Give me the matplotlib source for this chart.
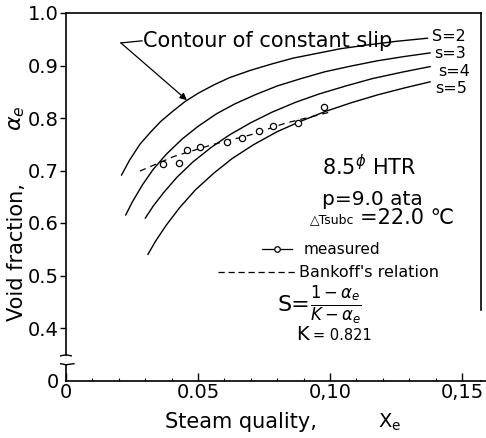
import matplotlib
matplotlib.use('Agg')
import matplotlib.pyplot as plt
from matplotlib.lines import Line2D
from matplotlib.ticker import MultipleLocator

plt.rcParams['font.family'] = ['DejaVu Sans']
plt.rcParams['mathtext.fontset'] = 'dejavusans'

# ── constant-slip contours ──
s2_x = [0.021, 0.024, 0.028, 0.032, 0.036, 0.040, 0.045, 0.050, 0.056, 0.062,
        0.070, 0.078, 0.086, 0.095, 0.104, 0.114, 0.125, 0.137]
s2_y = [0.691, 0.719, 0.750, 0.773, 0.794, 0.811, 0.831, 0.847, 0.863, 0.877,
        0.891, 0.903, 0.914, 0.923, 0.932, 0.939, 0.946, 0.952]
s3_x = [0.0226, 0.025, 0.029, 0.033, 0.038, 0.044, 0.050, 0.057, 0.064, 0.072,
        0.080, 0.089, 0.098, 0.108, 0.118, 0.128, 0.138]
s3_y = [0.615, 0.639, 0.673, 0.702, 0.731, 0.760, 0.784, 0.808, 0.827, 0.845,
        0.861, 0.875, 0.888, 0.899, 0.909, 0.917, 0.924]
s4_x = [0.030, 0.033, 0.037, 0.042, 0.048, 0.055, 0.062, 0.070, 0.078, 0.087,
        0.096, 0.106, 0.116, 0.127, 0.138]
s4_y = [0.609, 0.632, 0.658, 0.687, 0.716, 0.744, 0.768, 0.791, 0.811, 0.830,
        0.846, 0.861, 0.875, 0.887, 0.898]
s5_x = [0.031, 0.034, 0.038, 0.043, 0.049, 0.056, 0.063, 0.071, 0.080, 0.089,
        0.098, 0.108, 0.118, 0.128, 0.138]
s5_y = [0.540, 0.566, 0.596, 0.629, 0.663, 0.695, 0.723, 0.749, 0.774, 0.794,
        0.812, 0.829, 0.844, 0.857, 0.869]
slip_labels = ['S=2', 's=3', 's=4', 's=5']

# ── measured points ──
meas_x = [0.0366, 0.0429, 0.0457, 0.0508, 0.0611, 0.0668, 0.0731, 0.0785, 0.0880, 0.0978]
meas_y = [0.712, 0.715, 0.740, 0.745, 0.755, 0.762, 0.776, 0.785, 0.790, 0.821]

# ── Bankoff's relation ──
bank_x = [0.028, 0.041, 0.056, 0.070, 0.083, 0.1006]
bank_y = [0.699, 0.727, 0.750, 0.768, 0.790, 0.812]

yticks = [0.3, 0.4, 0.5, 0.6, 0.7, 0.8, 0.9, 1.0]
ytick_labels = ['0', '0.4', '0.5', '0.6', '0.7', '0.8', '0.9', '1.0']
xticks = [0, 0.05, 0.10, 0.15]
xtick_labels = ['0', '0.05', '0,10', '0,15']

fig = plt.figure(figsize=(4.86, 4.38), dpi=100)
ax = fig.add_axes([66 / 486, 1 - 380.5 / 438, 415 / 486, 367.5 / 438])
ax.set_xlim(0, 0.1572)
ax.set_ylim(0.3, 1.0)

for xs, ys in [(s2_x, s2_y), (s3_x, s3_y), (s4_x, s4_y), (s5_x, s5_y)]:
    ax.plot(xs, ys, color='black', lw=1.0, solid_capstyle='round', solid_joinstyle='round')

ax.plot(bank_x, bank_y, color='black', lw=0.9, ls=(0, (5, 4)))
ax.plot(meas_x, meas_y, 'o', mfc='white', mec='black', ms=4.5, mew=0.9)

# curve labels at the right ends
lab_pos = [(0.1385, 0.955), (0.1395, 0.922), (0.1408, 0.888), (0.1398, 0.856)]
for (lx, ly), t in zip(lab_pos, slip_labels):
    ax.text(lx, ly, t, fontsize=11.5, ha='left', va='center')

# "Contour of constant slip" with bent arrow
ax.text(0.0290, 0.947, 'Contour of constant slip', fontsize=15, ha='left', va='center')
ax.plot([0.0288, 0.0208], [0.947, 0.943], color='black', lw=0.9)
ax.annotate('', xy=(0.0458, 0.834), xytext=(0.0208, 0.943),
            arrowprops=dict(arrowstyle='-|>', lw=0.9, color='black',
                            mutation_scale=10, shrinkA=0, shrinkB=0))

# condition block
ax.text(0.0970, 0.707, r'8.5$^{\phi}$ HTR', fontsize=15, ha='left', va='center')
ax.text(0.0970, 0.644, 'p=9.0 ata', fontsize=14.5, ha='left', va='center')
ax.text(0.0924, 0.606, '\u25b3Tsubc', fontsize=9, ha='left', va='center')
ax.text(0.1112, 0.610, '=22.0 \u2103', fontsize=15, ha='left', va='center')

leg1 = ax.legend([Line2D([], [], color='black', lw=0.9, marker='o', mfc='white',
                         mec='black', ms=4, mew=0.9)], ['measured'],
                 loc='center left', bbox_to_anchor=(0.0742, 0.549),
                 bbox_transform=ax.transData, frameon=False, fontsize=11,
                 handlelength=2.0, handletextpad=0.7, borderpad=0, borderaxespad=0)
ax.add_artist(leg1)
ax.legend([Line2D([], [], color='black', lw=0.9, ls=(0, (5, 3)))], ["Bankoff's relation"],
          loc='center left', bbox_to_anchor=(0.0576, 0.505),
          bbox_transform=ax.transData, frameon=False, fontsize=11.5,
          handlelength=4.9, handletextpad=0.15, borderpad=0, borderaxespad=0)

ax.text(0.0800, 0.443, 'S=', fontsize=16, ha='left', va='center')
ax.text(0.0925, 0.443, r'$\frac{1-\alpha_e}{K-\alpha_e}$', fontsize=17, ha='left', va='center')
ax.text(0.0872, 0.387, 'K', fontsize=14, ha='left', va='center')
ax.text(0.0935, 0.385, '= 0.821', fontsize=10.5, ha='left', va='center')

# ── axes styling ──
for sp in ax.spines.values():
    sp.set_linewidth(1.2)
ax.spines['left'].set_bounds(0.349, 1.0)
ax.spines['right'].set_bounds(0.434, 1.0)
ax.axhline(0.3, xmin=1.0, xmax=1.015, color='black', lw=1.2, clip_on=False)

# axis break on the y axis
ax.plot([0, 0], [0.3, 0.330], color='black', lw=1.2, clip_on=False)
ax.plot([-0.002, 0.0, 0.003], [0.332, 0.330, 0.332], color='black', lw=1.0, clip_on=False)
ax.plot([-0.002, 0.0, 0.002], [0.347, 0.349, 0.347], color='black', lw=1.0, clip_on=False)

ax.set_yticks(yticks)
ax.set_yticklabels(ytick_labels)
ax.set_xticks(xticks)
ax.set_xticklabels(xtick_labels)
ax.xaxis.set_minor_locator(MultipleLocator(0.01))
ax.tick_params(axis='y', direction='out', length=4, width=1.0, pad=1, labelsize=14)
ax.tick_params(axis='y', which='both', right=False)
ax.tick_params(axis='x', which='major', direction='in', length=6, width=1.0, pad=2, labelsize=14)
ax.tick_params(axis='x', which='minor', direction='in', length=2.5, width=0.8)
ax.yaxis.get_major_ticks()[0].tick1line.set_visible(False)

fig.text(0.3395, 0.036, 'Steam quality,', fontsize=15, ha='left', va='center')
fig.text(0.778, 0.036, r'X$_\mathsf{e}$', fontsize=14, ha='left', va='center')
fig.text(0.036, 0.425, 'Void fraction,', fontsize=15, rotation=90, ha='center', va='center')
fig.text(0.036, 0.73, r'$\alpha_e$', fontsize=16, rotation=90, ha='center', va='center')

fig.savefig('out.png', dpi=100, facecolor='white')
